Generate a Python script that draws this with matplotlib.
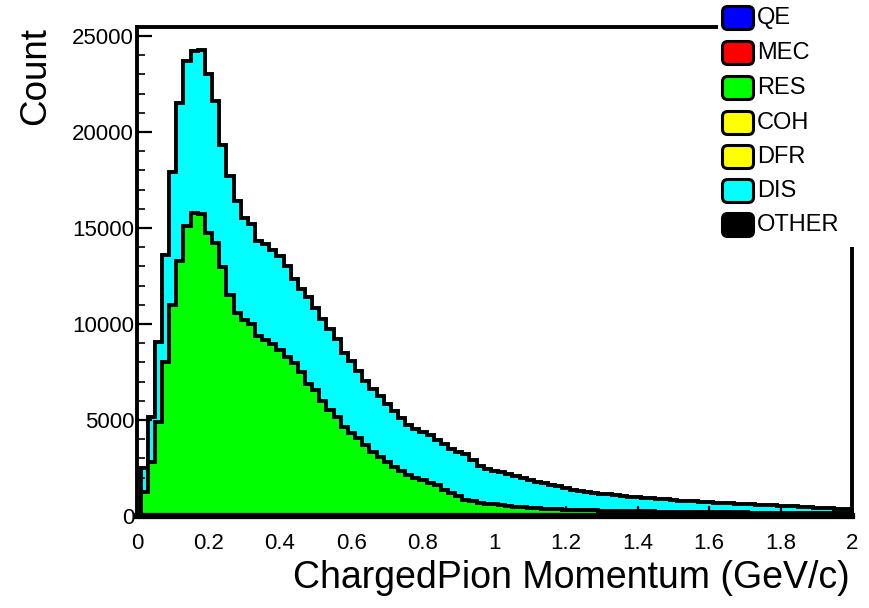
import numpy as np
import matplotlib
matplotlib.use("Agg")
import matplotlib.pyplot as plt
from matplotlib.patches import FancyBboxPatch, Rectangle
from matplotlib.ticker import MultipleLocator

plt.rcParams['font.family'] = ['Liberation Sans', 'DejaVu Sans']

# ---- data (bin centres 0.00, 0.02, ..., 2.00 GeV/c) ----
bin_centers = [round(0.02 * k, 2) for k in range(101)]

res_counts = [
    0, 1270, 2800, 4900, 8000, 11000, 13300, 15100, 15800, 15750,
    14750, 14200, 12950, 11500, 10550, 10200, 10000, 9350, 9150, 8950,
    8650, 8300, 7950, 7500, 6900, 6550, 6000, 5500, 5150, 4650,
    4300, 4050, 3700, 3350, 3050, 2800, 2550, 2350, 2150, 2000,
    1900, 1700, 1600, 1350, 1200, 1050, 850, 760, 700, 650,
    600, 560, 520, 490, 460, 430, 410, 390, 370, 350,
    335, 320, 310, 300, 290, 280, 272, 265, 258, 251,
    245, 240, 235, 230, 225, 220, 216, 212, 208, 204,
    200, 197, 194, 191, 188, 185, 182, 179, 176, 173,
    170, 168, 166, 164, 162, 160, 158, 156, 154, 152,
    150]

dis_counts = [
    0, 1230, 2350, 4150, 5600, 6900, 8200, 8600, 8400, 8500,
    8250, 7400, 6350, 6200, 5850, 5300, 5200, 4950, 5000, 4900,
    4900, 4700, 4400, 4300, 4500, 4300, 4250, 4250, 4050, 3850,
    3750, 3500, 3350, 3250, 3200, 3050, 2900, 2750, 2600, 2550,
    2480, 2500, 2350, 2400, 2300, 2300, 2370, 2140, 1920, 1800,
    1750, 1720, 1660, 1570, 1500, 1450, 1380, 1310, 1250, 1190,
    1115, 1050, 990, 950, 920, 890, 858, 825, 792, 759,
    735, 710, 685, 660, 635, 610, 584, 568, 552, 536,
    520, 503, 486, 469, 452, 435, 418, 411, 394, 387,
    370, 357, 339, 316, 293, 275, 257, 244, 236, 228,
    220]

legend_labels = ["QE", "MEC", "RES", "COH", "DFR", "DIS", "OTHER"]
legend_colors = ["#0000ff", "#ff0000", "#00ff00", "#ffff00", "#ffff00", "#00ffff", "#000000"]

x_ticks = [0, 0.2, 0.4, 0.6, 0.8, 1.0, 1.2, 1.4, 1.6, 1.8, 2.0]
x_tick_labels = ["0", "0.2", "0.4", "0.6", "0.8", "1", "1.2", "1.4", "1.6", "1.8", "2"]
y_ticks = [0, 5000, 10000, 15000, 20000, 25000]
y_tick_labels = ["0", "5000", "10000", "15000", "20000", "25000"]

x_title = "ChargedPion Momentum (GeV/c)"
y_title = "Count"

# ---- figure ----
W, H = 869, 608
fig = plt.figure(figsize=(W / 100, H / 100), dpi=100)
ax_l, ax_r, ax_b, ax_t = 137, 852, 516, 27
ax = fig.add_axes([ax_l / W, 1 - ax_b / H, (ax_r - ax_l) / W, (ax_b - ax_t) / H])

centers = np.array(bin_centers)
half = 0.01
edges = np.concatenate([centers - half, [centers[-1] + half]])
res = np.array(res_counts, dtype=float)
total = res + np.array(dis_counts, dtype=float)

lw = 2.8
ax.stairs(total, edges, fill=True, facecolor="#00ffff", edgecolor="none", zorder=1)
ax.stairs(total, edges, baseline=0, color="black", lw=lw, zorder=2)
ax.stairs(res, edges, fill=True, facecolor="#00ff00", edgecolor="none", zorder=3)
ax.stairs(res, edges, baseline=0, color="black", lw=lw, zorder=4)

ax.set_xlim(0, 2)
ax.set_ylim(0, 25470)

ax.set_xticks(x_ticks, x_tick_labels)
ax.set_yticks(y_ticks, y_tick_labels)
ax.xaxis.set_minor_locator(MultipleLocator(0.05))
ax.yaxis.set_minor_locator(MultipleLocator(1000))
ax.tick_params(axis="x", which="major", direction="in", length=7, width=1.6,
               labelsize=16, pad=12, top=False)
ax.tick_params(axis="x", which="minor", direction="in", length=3.5, width=1.2, top=False)
ax.tick_params(axis="y", which="major", direction="in", length=11, width=1.6,
               labelsize=16, pad=2, right=False)
ax.tick_params(axis="y", which="minor", direction="in", length=6, width=1.2, right=False)
for name, s in ax.spines.items():
    s.set_linewidth(4.5 if name == "bottom" else 2.8)
    s.set_zorder(10)

# axis titles
fig.text(850 / W, 1 - 578 / H, x_title, ha="right", va="center", fontsize=27)
fig.text(36 / W, 1 - 27 / H, y_title, ha="center", va="top", rotation=90, fontsize=26.5)

# legend (white box covering the top-right corner of the frame)
leg_left = 718
fig.add_artist(Rectangle((leg_left / W, 1 - 247 / H), (W - leg_left) / W, 247 / H,
                         transform=fig.transFigure, facecolor="white", edgecolor="none",
                         zorder=20))
entry_y = [18, 53, 88, 123, 157, 191, 225]
bw, bh = 31, 23
for lab, col, yc in zip(legend_labels, legend_colors, entry_y):
    box = FancyBboxPatch(((738 - bw / 2) / W, 1 - (yc + bh / 2) / H), bw / W, bh / H,
                         boxstyle="round,pad=0,rounding_size=0.006",
                         transform=fig.transFigure, facecolor=col, edgecolor="black",
                         lw=2.2, zorder=21, mutation_aspect=W / H)
    fig.add_artist(box)
    fig.text(757 / W, 1 - yc / H, lab, ha="left", va="center", fontsize=17, zorder=22)

fig.savefig("out.png", dpi=100)
